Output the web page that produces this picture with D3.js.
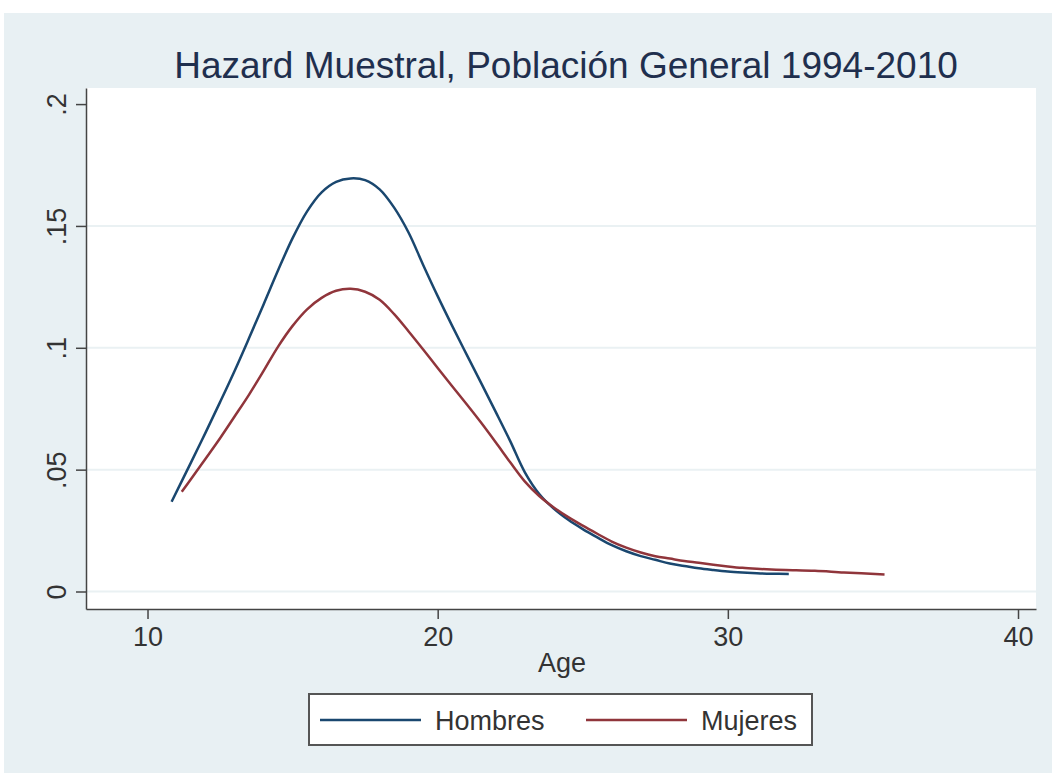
<!DOCTYPE html>
<html>
<head>
<meta charset="utf-8">
<style>
  body { margin: 0; background: #fff; }
  svg { display: block; font-family: "Liberation Sans", Arial, sans-serif; }
  .axis text { font-size: 27px; fill: #333; }
  .axis path, .axis line { stroke: #444; stroke-width: 1.5px; }
</style>
</head>
<body>
<svg width="1052" height="773"></svg>
<script src="https://d3js.org/d3.v7.min.js"></script>
<script>

var title = "Hazard Muestral, Población General 1994-2010";
var xLabel = "Age";
var xTicks = [10, 20, 30, 40];
var yTicks = [0, 0.05, 0.1, 0.15, 0.2];
var yTickLabels = ["0", ".05", ".1", ".15", ".2"];
var gridTicks = [0, 0.05, 0.1, 0.15];

var seriesNames = ["Hombres", "Mujeres"];
var seriesColors = ["#1a476f", "#90353b"];

var hombresAge = [10.83, 11.5, 12, 12.5, 13, 13.5, 14, 14.5, 15, 15.5, 16, 16.5, 17, 17.5, 18, 18.5, 19, 19.5,
  20, 20.5, 21, 21.5, 22, 22.5, 23, 23.5, 24, 24.5, 25, 25.5, 26, 26.5, 27, 27.5, 28, 28.5, 29, 29.5,
  30, 30.5, 31, 31.5, 32.1];
var hombresHazard = [0.0368, 0.053, 0.0652, 0.0777, 0.0905, 0.104, 0.1178, 0.1318, 0.145, 0.156, 0.1638, 0.1681, 0.1695, 0.1688, 0.165, 0.1575, 0.1472, 0.134,
  0.1212, 0.109, 0.0972, 0.0855, 0.0737, 0.0617, 0.049, 0.04, 0.034, 0.0294, 0.0256, 0.0222, 0.019, 0.0165, 0.0145, 0.013, 0.0115, 0.0105, 0.0095, 0.0088,
  0.0082, 0.0078, 0.0075, 0.0073, 0.0072];

var mujeresAge = [11.18, 11.5, 12, 12.5, 13, 13.5, 14, 14.5, 15, 15.5, 16, 16.5, 17, 17.5, 18, 18.5, 19, 19.5,
  20, 20.5, 21, 21.5, 22, 22.5, 23, 23.5, 24, 24.5, 25, 25.5, 26, 26.5, 27, 27.5, 28, 28.5, 29, 29.5,
  30, 30.5, 31, 31.5, 32, 33, 34, 35.4];
var mujeresHazard = [0.0409, 0.0462, 0.0545, 0.0629, 0.0718, 0.0808, 0.0905, 0.1005, 0.109, 0.1158, 0.1205, 0.1234, 0.1242, 0.123, 0.1197, 0.1138, 0.1067, 0.0993,
  0.0917, 0.0842, 0.0768, 0.0692, 0.0612, 0.053, 0.0452, 0.0392, 0.0345, 0.0305, 0.027, 0.0237, 0.0205, 0.018, 0.016, 0.0145, 0.0135, 0.0125, 0.0118, 0.011,
  0.0103, 0.0097, 0.0093, 0.009, 0.0088, 0.0085, 0.0078, 0.0070];

var svg = d3.select("svg"),
    width = +svg.attr("width"),
    height = +svg.attr("height");

// plot region (Stata style)
var plot = { left: 86, right: 1036, top: 88, bottom: 609 };

// axes extend a bit past the tick range, like Stata's plot region margin
var x = d3.scaleLinear().domain([7.88, 40.62]).range([plot.left, plot.right]);
var y = d3.scaleLinear().domain([-0.00718, 0.2066]).range([plot.bottom, plot.top]);

// graph region
svg.append("rect")
    .attr("x", 4).attr("y", 13)
    .attr("width", width - 4).attr("height", height - 13)
    .attr("fill", "#e8f0f3");

svg.append("rect")
    .attr("x", plot.left).attr("y", plot.top)
    .attr("width", plot.right - plot.left).attr("height", plot.bottom - plot.top)
    .attr("fill", "#fff");

// grid
svg.append("g").selectAll("line")
    .data(gridTicks)
  .enter().append("line")
    .attr("x1", plot.left).attr("x2", plot.right)
    .attr("y1", function(d) { return y(d); })
    .attr("y2", function(d) { return y(d); })
    .attr("stroke", "#eaf1f3")
    .attr("stroke-width", 2);

// title
svg.append("text")
    .attr("x", 566)
    .attr("y", 78)
    .attr("text-anchor", "middle")
    .attr("font-size", 37)
    .attr("fill", "#1f2f4e")
    .text(title);

// x axis
var gx = svg.append("g")
    .attr("class", "axis")
    .attr("transform", "translate(0," + plot.bottom + ")")
    .call(d3.axisBottom(x).tickValues(xTicks).tickFormat(d3.format("d")).tickSize(10).tickSizeOuter(0).tickPadding(8));

svg.append("text")
    .attr("x", 562)
    .attr("y", 672)
    .attr("text-anchor", "middle")
    .attr("font-size", 27)
    .attr("fill", "#333")
    .text(xLabel);

// y axis, labels rotated as in Stata
var gy = svg.append("g")
    .attr("class", "axis")
    .attr("transform", "translate(" + plot.left + ",0)")
    .call(d3.axisLeft(y).tickValues(yTicks).tickFormat(function(d, i) { return yTickLabels[i]; }).tickSize(10).tickSizeOuter(0));

gy.selectAll(".tick text")
    .attr("x", null).attr("dy", null)
    .attr("text-anchor", "middle")
    .attr("transform", "translate(-20,0) rotate(-90)");

// curves
var line = d3.line()
    .x(function(d) { return x(d[0]); })
    .y(function(d) { return y(d[1]); })
    .curve(d3.curveCatmullRom.alpha(0.5));

var series = [
  d3.zip(hombresAge, hombresHazard),
  d3.zip(mujeresAge, mujeresHazard)
];

svg.append("g").selectAll("path")
    .data(series)
  .enter().append("path")
    .attr("d", line)
    .attr("fill", "none")
    .attr("stroke", function(d, i) { return seriesColors[i]; })
    .attr("stroke-width", 2.5)
    .attr("stroke-linejoin", "round");

// legend
var legend = svg.append("g");

legend.append("rect")
    .attr("x", 309).attr("y", 694)
    .attr("width", 503).attr("height", 51)
    .attr("fill", "#fff")
    .attr("stroke", "#555")
    .attr("stroke-width", 2);

var item = legend.selectAll("g")
    .data(seriesNames)
  .enter().append("g")
    .attr("transform", function(d, i) { return "translate(" + (320 + i * 266) + ",720)"; });

item.append("line")
    .attr("x1", 0).attr("x2", 101)
    .attr("stroke", function(d, i) { return seriesColors[i]; })
    .attr("stroke-width", 2.5);

item.append("text")
    .attr("x", 115)
    .attr("y", 10)
    .attr("font-size", 27)
    .attr("fill", "#333")
    .text(function(d) { return d; });

</script>
</body>
</html>
